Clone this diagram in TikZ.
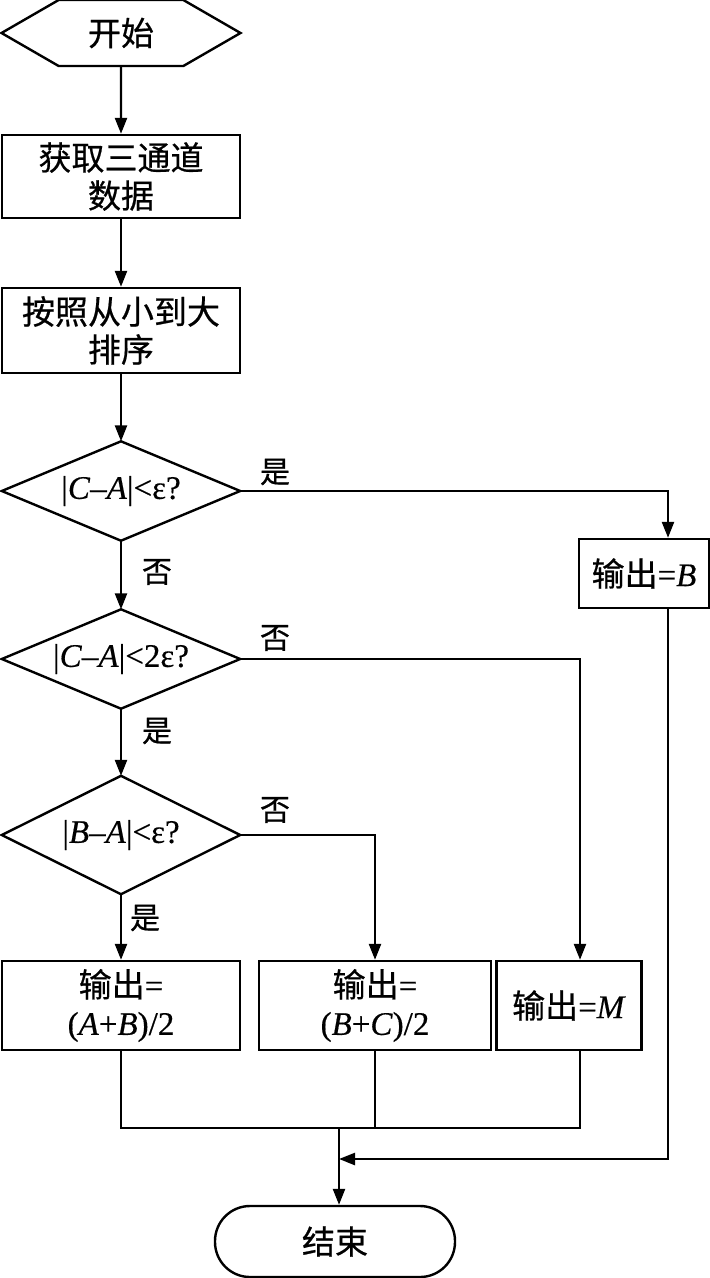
\documentclass[tikz,border=0pt]{standalone}
\usepackage{fontspec}
\setmainfont{Liberation Serif}[FakeBold=0.4]
\newfontfamily\cjk{Noto Sans CJK SC}[FakeBold=0.6]
\usetikzlibrary{shapes.geometric,shapes.symbols,arrows.meta,calc}
\newcommand{\zh}[1]{{\cjk #1}}
\begin{document}
\begin{tikzpicture}[x=1pt,y=-1pt,
  every node/.style={font=\fontsize{33}{38}\selectfont, inner sep=0pt},
  box/.style={draw, line width=2.4pt, rectangle, align=center},
  dia/.style={rectangle, minimum width=238pt},
  conn/.style={line width=2.4pt},
  arr/.style={conn, -{Triangle[length=16pt,width=12pt]}},
  lab/.style={font=\cjk\fontsize{30}{36}\selectfont}
]
\useasboundingbox (0,0) rectangle (710,1278);

\node[draw, line width=2.4pt, signal, signal to=west and east, signal pointer angle=60,
      minimum width=239pt, minimum height=66pt] (start) at (121,33) {\zh{开始}};
\node[box, minimum width=238pt, minimum height=83pt] (get) at (121,176.5) {\zh{获取三通道}\\\zh{数据}};
\node[box, minimum width=238pt, minimum height=85pt] (sort) at (121,330.5) {\zh{按照从小到大}\\\zh{排序}};
\node[dia, minimum height=99pt] (d1) at (121,491) {|\textit{C}–\textit{A}|<ε?};
\node[dia, minimum height=99pt] (d2) at (121,659) {|\textit{C}–\textit{A}|<2ε?};
\node[dia, minimum height=118pt] (d3) at (121,835) {|\textit{B}–\textit{A}|<ε?};
\foreach \d in {d1,d2,d3}
  \draw[line width=2.4pt, line join=miter] (\d.west) -- (\d.north) -- (\d.east) -- (\d.south) -- cycle;
\node[box, minimum width=130pt, minimum height=69pt] (oB) at (644,573.5) {\zh{输出}=\textit{B}};
\node[box, minimum width=238pt, minimum height=89pt] (oAB) at (121,1005.5) {\zh{输出}=\\(\textit{A}+\textit{B})/2};
\node[box, minimum width=232pt, minimum height=89pt] (oBC) at (375,1005.5) {\zh{输出}=\\(\textit{B}+\textit{C})/2};
\node[box, minimum width=145pt, minimum height=89pt] (oM) at (569,1005.5) {\zh{输出}=\textit{M}};
\node[draw, line width=2.4pt, rectangle, rounded corners=35pt, minimum width=240pt, minimum height=71pt] (end) at (335,1241.5) {\zh{结束}};

\coordinate (m) at (339,1128);
\coordinate (j) at (339,1159);
\coordinate (bx) at ($(oB.north)+(24,0)$);
\coordinate (bxs) at ($(oB.south)+(24,0)$);
\coordinate (mx) at ($(oM.north)+(11,0)$);
\coordinate (mxs) at ($(oM.south)+(11,0)$);

\draw[arr] (start) -- (get);
\draw[arr] (get) -- (sort);
\draw[arr] (sort) -- (d1.north);
\draw[arr] (d1.south) -- (d2.north);
\draw[arr] (d2.south) -- (d3.north);
\draw[arr] (d3.south) -- (oAB);
\draw[arr] (d1.east) -| (bx);
\draw[arr] (d2.east) -| (mx);
\draw[arr] (d3.east) -| (oBC.north);
\draw[conn] (oAB.south) |- (mxs |- m) -- (mxs);
\draw[conn] (oBC.south) -- (oBC.south |- m);
\draw[arr] (bxs) |- (j);
\draw[arr] (m) -- (end.north -| m);

\node[lab] (l1) at (275,472) {是};
\node[lab] (l2) at (157,572) {否};
\node[lab] (l3) at (275,638) {否};
\node[lab] (l4) at (157,731) {是};
\node[lab] (l5) at (275,810) {否};
\node[lab] (l6) at (145,918) {是};
\end{tikzpicture}
\end{document}
